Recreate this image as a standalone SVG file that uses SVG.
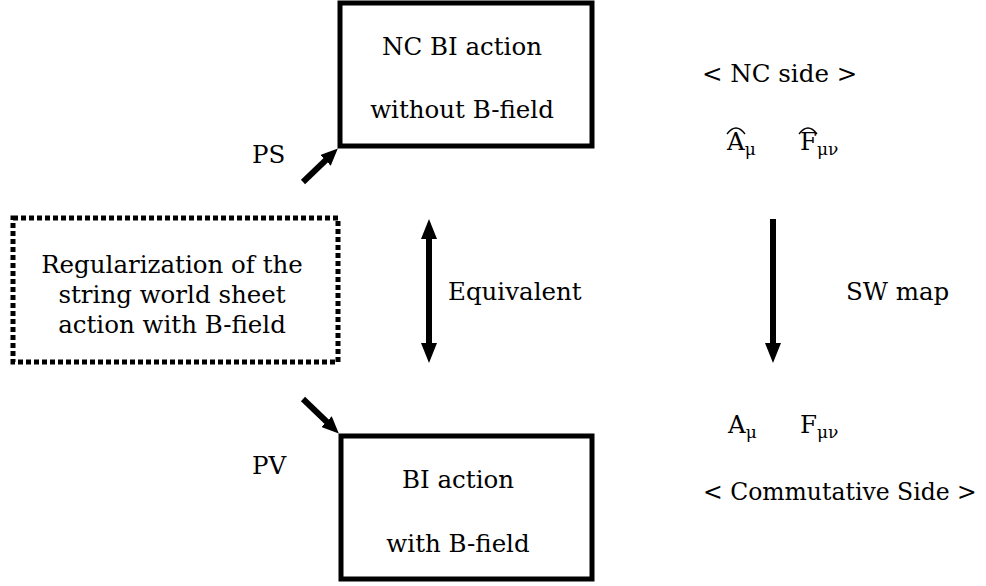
<svg xmlns="http://www.w3.org/2000/svg" width="986" height="586" viewBox="0 0 986 586">
<defs>
<style>
text{font-family:"DejaVu Serif","Liberation Serif",serif;font-size:24.5px;fill:#000}
.c{text-anchor:middle}
.sub{font-size:17px}
.box{fill:#fff;stroke:#000;stroke-width:5}
.dot{fill:none;stroke:#000;stroke-width:5;stroke-dasharray:5 3}
.ln{stroke:#000;stroke-width:6;fill:none}
.hat{fill:none;stroke:#000;stroke-width:1.3}
</style>
<marker id="big" markerUnits="userSpaceOnUse" markerWidth="20" markerHeight="16" refX="2" refY="8" orient="auto-start-reverse"><path d="M0,0 L20,8 L0,16 z" fill="#000"/></marker>
<marker id="small" markerUnits="userSpaceOnUse" markerWidth="17" markerHeight="15" refX="2" refY="7.5" orient="auto"><path d="M0,0 L17,7.5 L0,15 z" fill="#000"/></marker>
</defs>
<rect width="986" height="586" fill="#fff"/>
<g id="nc-bi">
<rect class="box" x="340" y="3" width="252" height="143"/>
<text class="c" x="462" y="55">NC BI action</text>
<text class="c" x="462" y="118">without B-field</text>
</g>
<g id="bi">
<rect class="box" x="341" y="436" width="251" height="143"/>
<text class="c" x="458" y="488">BI action</text>
<text class="c" x="458" y="552">with B-field</text>
</g>
<g id="regularization">
<rect class="dot" x="13" y="218" width="325" height="144"/>
<text class="c" x="172" y="273">Regularization of the</text>
<text class="c" x="172" y="303">string world sheet</text>
<text class="c" x="172" y="333">action with B-field</text>
</g>
<g id="nc-side">
<text x="702" y="82">&lt; NC side &gt;</text>
<text x="727" y="150">A<tspan class="sub" dy="5">μ</tspan></text>
<path class="hat" d="M727,134 Q736,122 745,134"/>
<text x="800" y="150">F<tspan class="sub" dy="5">μν</tspan></text>
<path class="hat" d="M799,134 Q808,122 817,134"/>
</g>
<g id="commutative-side">
<text x="728" y="433">A<tspan class="sub" dy="5">μ</tspan></text>
<text x="800" y="433">F<tspan class="sub" dy="5">μν</tspan></text>
<text x="703" y="500" style="font-size:23.5px">&lt; Commutative Side &gt;</text>
</g>
<g id="connectors">
<line class="ln" x1="303" y1="182" x2="327" y2="159" marker-end="url(#small)"/>
<line class="ln" x1="303" y1="399" x2="328" y2="423" marker-end="url(#small)"/>
<line class="ln" x1="429" y1="237" x2="429" y2="345" marker-start="url(#big)" marker-end="url(#big)"/>
<line class="ln" x1="773" y1="219" x2="773" y2="345" marker-end="url(#big)"/>
</g>
<g id="labels">
<text x="252" y="163">PS</text>
<text x="252" y="474">PV</text>
<text x="448" y="300">Equivalent</text>
<text x="846" y="300">SW map</text>
</g>
</svg>
